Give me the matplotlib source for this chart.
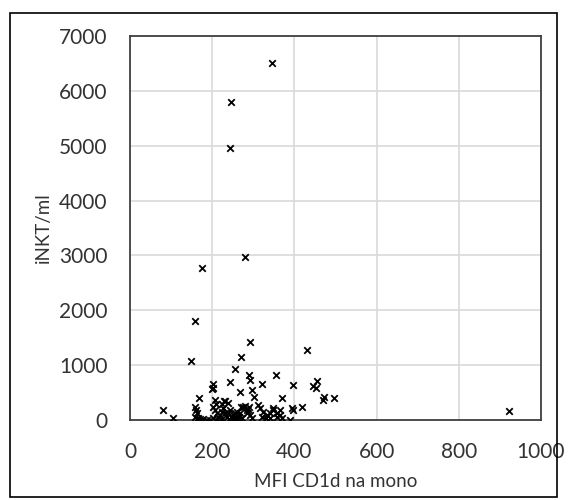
import matplotlib
matplotlib.use("Agg")
import matplotlib.pyplot as plt
from matplotlib.patches import Rectangle

# MFI CD1d na mono vs iNKT/ml
mfi_high = [346, 245, 243, 281, 176, 158, 148, 292, 271, 431, 255, 923]
inkt_high = [6510, 5800, 4960, 2980, 2770, 1810, 1080, 1420, 1155, 1280, 935, 170]

mfi_mid = [243, 201, 202, 200, 290, 291, 355, 320, 396, 268, 296, 302, 169, 369,
           80, 105, 456, 446, 453, 469, 472, 497, 418, 397, 395, 389]
inkt_mid = [700, 655, 590, 560, 820, 730, 825, 655, 630, 510, 545, 425, 405, 405,
            180, 30, 710, 620, 575, 365, 425, 395, 230, 180, 210, 0]

mfi_low = [208, 210, 232, 238, 228, 225,
           158, 160, 162, 157, 162, 166, 170, 178, 187, 195,
           203, 207, 211, 215, 203, 219, 223, 227, 231, 235, 239, 243, 247, 251,
           255, 260, 264, 268, 272, 260, 251, 211, 223, 240, 255,
           276, 280, 284, 288, 292, 296, 284, 270, 290,
           312, 316, 324, 333, 341, 341, 349, 349, 357, 357, 365, 365, 369, 330, 320]
inkt_low = [370, 300, 340, 310, 350, 290,
            240, 185, 120, 50, 10, 30, 15, 10, 5, 5,
            243, 180, 120, 60, 30, 90, 150, 210, 120, 60, 120, 180, 60, 90,
            120, 150, 60, 120, 30, 30, 10, 10, 10, 20, 40,
            243, 250, 180, 200, 91, 30, 120, 240, 230,
            273, 213, 152, 91, 30, 122, 182, 213, 122, 60, 182, 91, 30, 40, 60]

x_ticks = [0, 200, 400, 600, 800, 1000]
y_ticks = [0, 1000, 2000, 3000, 4000, 5000, 6000, 7000]

plt.rcParams['font.family'] = ['Lato', 'DejaVu Sans']

fig = plt.figure(figsize=(5.68, 5.0), dpi=100)
ax = fig.add_axes([130 / 568, 80 / 500, 411 / 568, 384 / 500])

xs = mfi_high + mfi_mid + mfi_low
ys = inkt_high + inkt_mid + inkt_low
ax.scatter(xs, ys, marker='x', s=22, color='black', linewidths=1.3, zorder=3)

ax.set_xlim(0, 1000)
ax.set_ylim(0, 7000)
ax.set_xticks(x_ticks)
ax.set_yticks(y_ticks)
ax.tick_params(length=0, labelsize=15, colors='#333333')
ax.tick_params(axis='x', pad=16)
ax.tick_params(axis='y', pad=16)
ax.grid(True, color='#d9d9d9', linewidth=1.2)
ax.set_axisbelow(True)
for s in ax.spines.values():
    s.set_color('#404040')
    s.set_linewidth(1.3)

ax.set_xlabel('MFI CD1d na mono', fontsize=13.5, color='#333333', labelpad=8)
ax.set_ylabel('iNKT/ml', fontsize=13.5, color='#333333', labelpad=5)

# outer border of the chart
fig.patches.append(Rectangle((10 / 568, 3 / 500), 547 / 568, 484 / 500,
                             transform=fig.transFigure, fill=False,
                             edgecolor='black', linewidth=1.2))

fig.savefig('out.png', dpi=100)
